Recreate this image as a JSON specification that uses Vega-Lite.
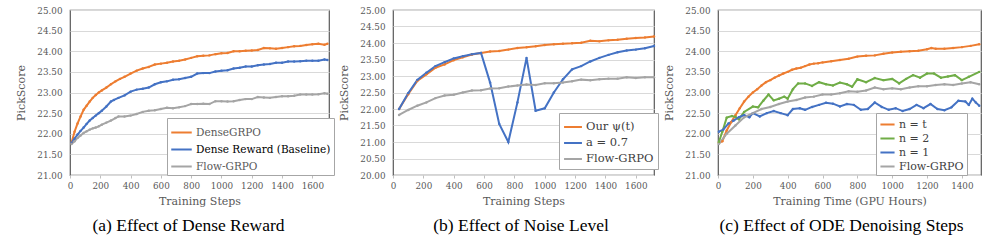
{
  "$schema": "https://vega.github.io/schema/vega-lite/v6.json",
  "background": "white",
  "padding": {"left": 15, "top": 5, "right": 5, "bottom": 5},
  "spacing": 64,
  "bounds": "flush",
  "config": {
    "font": "DejaVu Serif",
    "view": {"stroke": "#595959", "strokeWidth": 1.2},
    "axis": {"labelFont": "DejaVu Serif", "labelFontSize": 8.8, "labelColor": "#595959", "titleFont": "DejaVu Serif", "titleFontSize": 11, "titleFontWeight": "normal", "titleColor": "#595959", "gridColor": "#D9D9D9", "domain": false, "labelFlush": false},
    "axisX": {"grid": false, "tickColor": "#BFBFBF", "tickSize": 3, "labelPadding": 3, "titlePadding": 6, "format": "d"},
    "axisY": {"ticks": false, "labelPadding": 8, "format": ".2f", "titlePadding": 10},
    "legend": {"orient": "none", "title": null, "symbolType": "stroke", "symbolStrokeWidth": 2, "symbolSize": 480, "labelFont": "DejaVu Serif", "labelFontSize": 10.5, "labelColor": "#404040", "fillColor": "white", "strokeColor": "#A6A6A6", "padding": 3, "rowPadding": 0, "labelOffset": 3},
    "title": {"font": "Liberation Serif", "fontSize": 17.5, "fontWeight": "normal", "color": "black", "orient": "bottom", "offset": 10, "frame": "group"}
  },
  "datasets": {
    "a": [
      {"x":10,"y":21.78,"s":"DenseGRPO"},{"x":30,"y":22.05,"s":"DenseGRPO"},{"x":50,"y":22.25,"s":"DenseGRPO"},{"x":70,"y":22.42,"s":"DenseGRPO"},{"x":90,"y":22.58,"s":"DenseGRPO"},{"x":110,"y":22.68,"s":"DenseGRPO"},{"x":130,"y":22.78,"s":"DenseGRPO"},{"x":150,"y":22.87,"s":"DenseGRPO"},{"x":170,"y":22.94,"s":"DenseGRPO"},{"x":190,"y":23.0,"s":"DenseGRPO"},{"x":210,"y":23.05,"s":"DenseGRPO"},{"x":240,"y":23.12,"s":"DenseGRPO"},{"x":270,"y":23.2,"s":"DenseGRPO"},{"x":300,"y":23.27,"s":"DenseGRPO"},{"x":330,"y":23.33,"s":"DenseGRPO"},{"x":360,"y":23.38,"s":"DenseGRPO"},{"x":400,"y":23.46,"s":"DenseGRPO"},{"x":440,"y":23.53,"s":"DenseGRPO"},{"x":480,"y":23.58,"s":"DenseGRPO"},{"x":520,"y":23.62,"s":"DenseGRPO"},{"x":560,"y":23.68,"s":"DenseGRPO"},{"x":600,"y":23.7,"s":"DenseGRPO"},{"x":640,"y":23.72,"s":"DenseGRPO"},{"x":680,"y":23.75,"s":"DenseGRPO"},{"x":720,"y":23.77,"s":"DenseGRPO"},{"x":760,"y":23.8,"s":"DenseGRPO"},{"x":800,"y":23.84,"s":"DenseGRPO"},{"x":840,"y":23.88,"s":"DenseGRPO"},{"x":880,"y":23.89,"s":"DenseGRPO"},{"x":920,"y":23.9,"s":"DenseGRPO"},{"x":960,"y":23.93,"s":"DenseGRPO"},{"x":1000,"y":23.95,"s":"DenseGRPO"},{"x":1040,"y":23.96,"s":"DenseGRPO"},{"x":1080,"y":24.0,"s":"DenseGRPO"},{"x":1120,"y":24.0,"s":"DenseGRPO"},{"x":1160,"y":24.01,"s":"DenseGRPO"},{"x":1200,"y":24.02,"s":"DenseGRPO"},{"x":1240,"y":24.03,"s":"DenseGRPO"},{"x":1280,"y":24.08,"s":"DenseGRPO"},{"x":1320,"y":24.07,"s":"DenseGRPO"},{"x":1360,"y":24.06,"s":"DenseGRPO"},{"x":1400,"y":24.08,"s":"DenseGRPO"},{"x":1440,"y":24.1,"s":"DenseGRPO"},{"x":1480,"y":24.12,"s":"DenseGRPO"},{"x":1520,"y":24.13,"s":"DenseGRPO"},{"x":1560,"y":24.15,"s":"DenseGRPO"},{"x":1600,"y":24.17,"s":"DenseGRPO"},{"x":1640,"y":24.18,"s":"DenseGRPO"},{"x":1680,"y":24.16,"s":"DenseGRPO"},{"x":1700,"y":24.18,"s":"DenseGRPO"},
      {"x":10,"y":21.78,"s":"Dense Reward (Baseline)"},{"x":30,"y":21.88,"s":"Dense Reward (Baseline)"},{"x":50,"y":21.98,"s":"Dense Reward (Baseline)"},{"x":70,"y":22.07,"s":"Dense Reward (Baseline)"},{"x":90,"y":22.15,"s":"Dense Reward (Baseline)"},{"x":110,"y":22.24,"s":"Dense Reward (Baseline)"},{"x":130,"y":22.32,"s":"Dense Reward (Baseline)"},{"x":150,"y":22.38,"s":"Dense Reward (Baseline)"},{"x":170,"y":22.44,"s":"Dense Reward (Baseline)"},{"x":190,"y":22.5,"s":"Dense Reward (Baseline)"},{"x":210,"y":22.56,"s":"Dense Reward (Baseline)"},{"x":240,"y":22.66,"s":"Dense Reward (Baseline)"},{"x":270,"y":22.78,"s":"Dense Reward (Baseline)"},{"x":290,"y":22.82,"s":"Dense Reward (Baseline)"},{"x":320,"y":22.87,"s":"Dense Reward (Baseline)"},{"x":360,"y":22.93,"s":"Dense Reward (Baseline)"},{"x":400,"y":23.02,"s":"Dense Reward (Baseline)"},{"x":440,"y":23.07,"s":"Dense Reward (Baseline)"},{"x":480,"y":23.09,"s":"Dense Reward (Baseline)"},{"x":520,"y":23.12,"s":"Dense Reward (Baseline)"},{"x":560,"y":23.2,"s":"Dense Reward (Baseline)"},{"x":600,"y":23.25,"s":"Dense Reward (Baseline)"},{"x":640,"y":23.27,"s":"Dense Reward (Baseline)"},{"x":680,"y":23.31,"s":"Dense Reward (Baseline)"},{"x":720,"y":23.32,"s":"Dense Reward (Baseline)"},{"x":760,"y":23.35,"s":"Dense Reward (Baseline)"},{"x":800,"y":23.38,"s":"Dense Reward (Baseline)"},{"x":840,"y":23.46,"s":"Dense Reward (Baseline)"},{"x":880,"y":23.47,"s":"Dense Reward (Baseline)"},{"x":920,"y":23.47,"s":"Dense Reward (Baseline)"},{"x":960,"y":23.51,"s":"Dense Reward (Baseline)"},{"x":1000,"y":23.53,"s":"Dense Reward (Baseline)"},{"x":1040,"y":23.54,"s":"Dense Reward (Baseline)"},{"x":1080,"y":23.58,"s":"Dense Reward (Baseline)"},{"x":1120,"y":23.6,"s":"Dense Reward (Baseline)"},{"x":1160,"y":23.63,"s":"Dense Reward (Baseline)"},{"x":1200,"y":23.63,"s":"Dense Reward (Baseline)"},{"x":1240,"y":23.66,"s":"Dense Reward (Baseline)"},{"x":1280,"y":23.68,"s":"Dense Reward (Baseline)"},{"x":1320,"y":23.69,"s":"Dense Reward (Baseline)"},{"x":1360,"y":23.72,"s":"Dense Reward (Baseline)"},{"x":1400,"y":23.72,"s":"Dense Reward (Baseline)"},{"x":1440,"y":23.75,"s":"Dense Reward (Baseline)"},{"x":1480,"y":23.75,"s":"Dense Reward (Baseline)"},{"x":1520,"y":23.76,"s":"Dense Reward (Baseline)"},{"x":1560,"y":23.77,"s":"Dense Reward (Baseline)"},{"x":1600,"y":23.77,"s":"Dense Reward (Baseline)"},{"x":1640,"y":23.77,"s":"Dense Reward (Baseline)"},{"x":1680,"y":23.8,"s":"Dense Reward (Baseline)"},{"x":1700,"y":23.79,"s":"Dense Reward (Baseline)"},
      {"x":10,"y":21.75,"s":"Flow-GRPO"},{"x":30,"y":21.82,"s":"Flow-GRPO"},{"x":50,"y":21.9,"s":"Flow-GRPO"},{"x":70,"y":21.96,"s":"Flow-GRPO"},{"x":90,"y":22.02,"s":"Flow-GRPO"},{"x":110,"y":22.06,"s":"Flow-GRPO"},{"x":130,"y":22.1,"s":"Flow-GRPO"},{"x":150,"y":22.13,"s":"Flow-GRPO"},{"x":170,"y":22.15,"s":"Flow-GRPO"},{"x":190,"y":22.18,"s":"Flow-GRPO"},{"x":210,"y":22.22,"s":"Flow-GRPO"},{"x":240,"y":22.27,"s":"Flow-GRPO"},{"x":270,"y":22.32,"s":"Flow-GRPO"},{"x":300,"y":22.38,"s":"Flow-GRPO"},{"x":320,"y":22.42,"s":"Flow-GRPO"},{"x":360,"y":22.42,"s":"Flow-GRPO"},{"x":400,"y":22.44,"s":"Flow-GRPO"},{"x":440,"y":22.48,"s":"Flow-GRPO"},{"x":480,"y":22.53,"s":"Flow-GRPO"},{"x":520,"y":22.56,"s":"Flow-GRPO"},{"x":560,"y":22.57,"s":"Flow-GRPO"},{"x":600,"y":22.6,"s":"Flow-GRPO"},{"x":640,"y":22.63,"s":"Flow-GRPO"},{"x":680,"y":22.62,"s":"Flow-GRPO"},{"x":720,"y":22.64,"s":"Flow-GRPO"},{"x":760,"y":22.67,"s":"Flow-GRPO"},{"x":800,"y":22.72,"s":"Flow-GRPO"},{"x":840,"y":22.72,"s":"Flow-GRPO"},{"x":880,"y":22.73,"s":"Flow-GRPO"},{"x":920,"y":22.72,"s":"Flow-GRPO"},{"x":960,"y":22.79,"s":"Flow-GRPO"},{"x":1000,"y":22.79,"s":"Flow-GRPO"},{"x":1040,"y":22.78,"s":"Flow-GRPO"},{"x":1080,"y":22.79,"s":"Flow-GRPO"},{"x":1120,"y":22.82,"s":"Flow-GRPO"},{"x":1160,"y":22.84,"s":"Flow-GRPO"},{"x":1200,"y":22.84,"s":"Flow-GRPO"},{"x":1240,"y":22.89,"s":"Flow-GRPO"},{"x":1280,"y":22.88,"s":"Flow-GRPO"},{"x":1320,"y":22.87,"s":"Flow-GRPO"},{"x":1360,"y":22.89,"s":"Flow-GRPO"},{"x":1400,"y":22.91,"s":"Flow-GRPO"},{"x":1440,"y":22.91,"s":"Flow-GRPO"},{"x":1480,"y":22.92,"s":"Flow-GRPO"},{"x":1520,"y":22.95,"s":"Flow-GRPO"},{"x":1560,"y":22.95,"s":"Flow-GRPO"},{"x":1600,"y":22.95,"s":"Flow-GRPO"},{"x":1640,"y":22.96,"s":"Flow-GRPO"},{"x":1680,"y":22.98,"s":"Flow-GRPO"},{"x":1700,"y":22.97,"s":"Flow-GRPO"}
    ],
    "b": [
      {"x":40,"y":22.0,"s":"Our ψ(t)"},{"x":100,"y":22.45,"s":"Our ψ(t)"},{"x":160,"y":22.85,"s":"Our ψ(t)"},{"x":220,"y":23.05,"s":"Our ψ(t)"},{"x":280,"y":23.25,"s":"Our ψ(t)"},{"x":340,"y":23.35,"s":"Our ψ(t)"},{"x":400,"y":23.48,"s":"Our ψ(t)"},{"x":460,"y":23.57,"s":"Our ψ(t)"},{"x":520,"y":23.65,"s":"Our ψ(t)"},{"x":580,"y":23.7,"s":"Our ψ(t)"},{"x":640,"y":23.74,"s":"Our ψ(t)"},{"x":700,"y":23.76,"s":"Our ψ(t)"},{"x":760,"y":23.8,"s":"Our ψ(t)"},{"x":820,"y":23.85,"s":"Our ψ(t)"},{"x":880,"y":23.87,"s":"Our ψ(t)"},{"x":940,"y":23.9,"s":"Our ψ(t)"},{"x":1000,"y":23.94,"s":"Our ψ(t)"},{"x":1060,"y":23.96,"s":"Our ψ(t)"},{"x":1120,"y":23.98,"s":"Our ψ(t)"},{"x":1180,"y":23.99,"s":"Our ψ(t)"},{"x":1240,"y":24.01,"s":"Our ψ(t)"},{"x":1300,"y":24.07,"s":"Our ψ(t)"},{"x":1360,"y":24.05,"s":"Our ψ(t)"},{"x":1420,"y":24.08,"s":"Our ψ(t)"},{"x":1480,"y":24.1,"s":"Our ψ(t)"},{"x":1540,"y":24.13,"s":"Our ψ(t)"},{"x":1600,"y":24.15,"s":"Our ψ(t)"},{"x":1660,"y":24.17,"s":"Our ψ(t)"},{"x":1720,"y":24.2,"s":"Our ψ(t)"},
      {"x":40,"y":22.0,"s":"a = 0.7"},{"x":100,"y":22.48,"s":"a = 0.7"},{"x":160,"y":22.88,"s":"a = 0.7"},{"x":220,"y":23.1,"s":"a = 0.7"},{"x":280,"y":23.3,"s":"a = 0.7"},{"x":340,"y":23.42,"s":"a = 0.7"},{"x":400,"y":23.53,"s":"a = 0.7"},{"x":460,"y":23.6,"s":"a = 0.7"},{"x":520,"y":23.66,"s":"a = 0.7"},{"x":580,"y":23.7,"s":"a = 0.7"},{"x":640,"y":22.8,"s":"a = 0.7"},{"x":700,"y":21.55,"s":"a = 0.7"},{"x":760,"y":21.0,"s":"a = 0.7"},{"x":820,"y":22.2,"s":"a = 0.7"},{"x":880,"y":23.55,"s":"a = 0.7"},{"x":940,"y":21.95,"s":"a = 0.7"},{"x":1000,"y":22.02,"s":"a = 0.7"},{"x":1060,"y":22.5,"s":"a = 0.7"},{"x":1120,"y":22.9,"s":"a = 0.7"},{"x":1180,"y":23.2,"s":"a = 0.7"},{"x":1240,"y":23.3,"s":"a = 0.7"},{"x":1300,"y":23.44,"s":"a = 0.7"},{"x":1360,"y":23.55,"s":"a = 0.7"},{"x":1420,"y":23.64,"s":"a = 0.7"},{"x":1480,"y":23.72,"s":"a = 0.7"},{"x":1540,"y":23.77,"s":"a = 0.7"},{"x":1600,"y":23.8,"s":"a = 0.7"},{"x":1660,"y":23.84,"s":"a = 0.7"},{"x":1720,"y":23.91,"s":"a = 0.7"},
      {"x":40,"y":21.82,"s":"Flow-GRPO"},{"x":100,"y":21.97,"s":"Flow-GRPO"},{"x":160,"y":22.1,"s":"Flow-GRPO"},{"x":220,"y":22.2,"s":"Flow-GRPO"},{"x":280,"y":22.33,"s":"Flow-GRPO"},{"x":340,"y":22.41,"s":"Flow-GRPO"},{"x":400,"y":22.43,"s":"Flow-GRPO"},{"x":460,"y":22.5,"s":"Flow-GRPO"},{"x":520,"y":22.56,"s":"Flow-GRPO"},{"x":580,"y":22.57,"s":"Flow-GRPO"},{"x":640,"y":22.62,"s":"Flow-GRPO"},{"x":700,"y":22.63,"s":"Flow-GRPO"},{"x":760,"y":22.68,"s":"Flow-GRPO"},{"x":820,"y":22.71,"s":"Flow-GRPO"},{"x":880,"y":22.74,"s":"Flow-GRPO"},{"x":940,"y":22.73,"s":"Flow-GRPO"},{"x":1000,"y":22.78,"s":"Flow-GRPO"},{"x":1060,"y":22.78,"s":"Flow-GRPO"},{"x":1120,"y":22.8,"s":"Flow-GRPO"},{"x":1180,"y":22.84,"s":"Flow-GRPO"},{"x":1240,"y":22.89,"s":"Flow-GRPO"},{"x":1300,"y":22.87,"s":"Flow-GRPO"},{"x":1360,"y":22.9,"s":"Flow-GRPO"},{"x":1420,"y":22.92,"s":"Flow-GRPO"},{"x":1480,"y":22.92,"s":"Flow-GRPO"},{"x":1540,"y":22.96,"s":"Flow-GRPO"},{"x":1600,"y":22.94,"s":"Flow-GRPO"},{"x":1660,"y":22.96,"s":"Flow-GRPO"},{"x":1720,"y":22.96,"s":"Flow-GRPO"}
    ],
    "c": [
      {"x":5,"y":21.78,"s":"n = t"},{"x":25,"y":21.82,"s":"n = t"},{"x":50,"y":22.08,"s":"n = t"},{"x":75,"y":22.28,"s":"n = t"},{"x":100,"y":22.45,"s":"n = t"},{"x":125,"y":22.62,"s":"n = t"},{"x":150,"y":22.78,"s":"n = t"},{"x":175,"y":22.9,"s":"n = t"},{"x":200,"y":23.0,"s":"n = t"},{"x":225,"y":23.08,"s":"n = t"},{"x":250,"y":23.17,"s":"n = t"},{"x":275,"y":23.25,"s":"n = t"},{"x":300,"y":23.3,"s":"n = t"},{"x":325,"y":23.36,"s":"n = t"},{"x":350,"y":23.41,"s":"n = t"},{"x":375,"y":23.46,"s":"n = t"},{"x":400,"y":23.5,"s":"n = t"},{"x":425,"y":23.55,"s":"n = t"},{"x":450,"y":23.58,"s":"n = t"},{"x":475,"y":23.6,"s":"n = t"},{"x":500,"y":23.64,"s":"n = t"},{"x":525,"y":23.68,"s":"n = t"},{"x":550,"y":23.7,"s":"n = t"},{"x":575,"y":23.71,"s":"n = t"},{"x":600,"y":23.73,"s":"n = t"},{"x":650,"y":23.76,"s":"n = t"},{"x":700,"y":23.79,"s":"n = t"},{"x":750,"y":23.82,"s":"n = t"},{"x":800,"y":23.87,"s":"n = t"},{"x":850,"y":23.89,"s":"n = t"},{"x":900,"y":23.9,"s":"n = t"},{"x":950,"y":23.94,"s":"n = t"},{"x":1000,"y":23.97,"s":"n = t"},{"x":1050,"y":23.99,"s":"n = t"},{"x":1100,"y":24.0,"s":"n = t"},{"x":1150,"y":24.01,"s":"n = t"},{"x":1200,"y":24.05,"s":"n = t"},{"x":1225,"y":24.08,"s":"n = t"},{"x":1250,"y":24.06,"s":"n = t"},{"x":1300,"y":24.06,"s":"n = t"},{"x":1350,"y":24.08,"s":"n = t"},{"x":1400,"y":24.1,"s":"n = t"},{"x":1450,"y":24.13,"s":"n = t"},{"x":1500,"y":24.17,"s":"n = t"},
      {"x":5,"y":21.8,"s":"n = 2"},{"x":25,"y":22.05,"s":"n = 2"},{"x":50,"y":22.39,"s":"n = 2"},{"x":80,"y":22.43,"s":"n = 2"},{"x":100,"y":22.41,"s":"n = 2"},{"x":120,"y":22.35,"s":"n = 2"},{"x":150,"y":22.53,"s":"n = 2"},{"x":200,"y":22.66,"s":"n = 2"},{"x":230,"y":22.64,"s":"n = 2"},{"x":260,"y":22.8,"s":"n = 2"},{"x":290,"y":22.95,"s":"n = 2"},{"x":320,"y":22.81,"s":"n = 2"},{"x":350,"y":22.85,"s":"n = 2"},{"x":380,"y":22.9,"s":"n = 2"},{"x":400,"y":22.85,"s":"n = 2"},{"x":430,"y":23.08,"s":"n = 2"},{"x":460,"y":23.22,"s":"n = 2"},{"x":500,"y":23.22,"s":"n = 2"},{"x":540,"y":23.16,"s":"n = 2"},{"x":580,"y":23.25,"s":"n = 2"},{"x":620,"y":23.2,"s":"n = 2"},{"x":660,"y":23.17,"s":"n = 2"},{"x":700,"y":23.24,"s":"n = 2"},{"x":740,"y":23.2,"s":"n = 2"},{"x":770,"y":23.14,"s":"n = 2"},{"x":800,"y":23.32,"s":"n = 2"},{"x":850,"y":23.25,"s":"n = 2"},{"x":900,"y":23.35,"s":"n = 2"},{"x":950,"y":23.3,"s":"n = 2"},{"x":1000,"y":23.33,"s":"n = 2"},{"x":1040,"y":23.22,"s":"n = 2"},{"x":1080,"y":23.33,"s":"n = 2"},{"x":1120,"y":23.42,"s":"n = 2"},{"x":1160,"y":23.36,"s":"n = 2"},{"x":1200,"y":23.46,"s":"n = 2"},{"x":1240,"y":23.46,"s":"n = 2"},{"x":1280,"y":23.36,"s":"n = 2"},{"x":1320,"y":23.39,"s":"n = 2"},{"x":1360,"y":23.42,"s":"n = 2"},{"x":1400,"y":23.3,"s":"n = 2"},{"x":1440,"y":23.38,"s":"n = 2"},{"x":1500,"y":23.5,"s":"n = 2"},
      {"x":5,"y":22.05,"s":"n = 1"},{"x":30,"y":22.1,"s":"n = 1"},{"x":60,"y":22.25,"s":"n = 1"},{"x":90,"y":22.32,"s":"n = 1"},{"x":120,"y":22.4,"s":"n = 1"},{"x":150,"y":22.45,"s":"n = 1"},{"x":180,"y":22.4,"s":"n = 1"},{"x":200,"y":22.5,"s":"n = 1"},{"x":240,"y":22.42,"s":"n = 1"},{"x":280,"y":22.5,"s":"n = 1"},{"x":320,"y":22.55,"s":"n = 1"},{"x":360,"y":22.5,"s":"n = 1"},{"x":400,"y":22.45,"s":"n = 1"},{"x":430,"y":22.6,"s":"n = 1"},{"x":470,"y":22.62,"s":"n = 1"},{"x":500,"y":22.58,"s":"n = 1"},{"x":540,"y":22.65,"s":"n = 1"},{"x":580,"y":22.7,"s":"n = 1"},{"x":620,"y":22.75,"s":"n = 1"},{"x":660,"y":22.73,"s":"n = 1"},{"x":700,"y":22.66,"s":"n = 1"},{"x":740,"y":22.72,"s":"n = 1"},{"x":780,"y":22.7,"s":"n = 1"},{"x":820,"y":22.58,"s":"n = 1"},{"x":860,"y":22.6,"s":"n = 1"},{"x":900,"y":22.76,"s":"n = 1"},{"x":940,"y":22.65,"s":"n = 1"},{"x":980,"y":22.58,"s":"n = 1"},{"x":1020,"y":22.62,"s":"n = 1"},{"x":1060,"y":22.55,"s":"n = 1"},{"x":1100,"y":22.6,"s":"n = 1"},{"x":1140,"y":22.7,"s":"n = 1"},{"x":1180,"y":22.62,"s":"n = 1"},{"x":1220,"y":22.72,"s":"n = 1"},{"x":1260,"y":22.6,"s":"n = 1"},{"x":1300,"y":22.57,"s":"n = 1"},{"x":1340,"y":22.64,"s":"n = 1"},{"x":1380,"y":22.8,"s":"n = 1"},{"x":1420,"y":22.78,"s":"n = 1"},{"x":1440,"y":22.7,"s":"n = 1"},{"x":1460,"y":22.85,"s":"n = 1"},{"x":1480,"y":22.76,"s":"n = 1"},{"x":1500,"y":22.68,"s":"n = 1"},
      {"x":5,"y":21.75,"s":"Flow-GRPO"},{"x":50,"y":22.0,"s":"Flow-GRPO"},{"x":100,"y":22.2,"s":"Flow-GRPO"},{"x":150,"y":22.4,"s":"Flow-GRPO"},{"x":200,"y":22.5,"s":"Flow-GRPO"},{"x":250,"y":22.6,"s":"Flow-GRPO"},{"x":300,"y":22.65,"s":"Flow-GRPO"},{"x":350,"y":22.72,"s":"Flow-GRPO"},{"x":400,"y":22.78,"s":"Flow-GRPO"},{"x":450,"y":22.82,"s":"Flow-GRPO"},{"x":500,"y":22.88,"s":"Flow-GRPO"},{"x":550,"y":22.9,"s":"Flow-GRPO"},{"x":600,"y":22.95,"s":"Flow-GRPO"},{"x":650,"y":22.95,"s":"Flow-GRPO"},{"x":700,"y":22.98,"s":"Flow-GRPO"},{"x":750,"y":23.03,"s":"Flow-GRPO"},{"x":800,"y":23.02,"s":"Flow-GRPO"},{"x":850,"y":23.05,"s":"Flow-GRPO"},{"x":900,"y":23.12,"s":"Flow-GRPO"},{"x":950,"y":23.08,"s":"Flow-GRPO"},{"x":1000,"y":23.1,"s":"Flow-GRPO"},{"x":1050,"y":23.08,"s":"Flow-GRPO"},{"x":1100,"y":23.12,"s":"Flow-GRPO"},{"x":1150,"y":23.15,"s":"Flow-GRPO"},{"x":1200,"y":23.15,"s":"Flow-GRPO"},{"x":1250,"y":23.18,"s":"Flow-GRPO"},{"x":1300,"y":23.2,"s":"Flow-GRPO"},{"x":1350,"y":23.18,"s":"Flow-GRPO"},{"x":1400,"y":23.22,"s":"Flow-GRPO"},{"x":1450,"y":23.25,"s":"Flow-GRPO"},{"x":1500,"y":23.2,"s":"Flow-GRPO"}
    ]
  },
  "hconcat": [
    {
      "width": 259, "height": 165,
      "data": {"name": "a"},
      "title": {"text": "(a) Effect of Dense Reward", "dx": -11},
      "mark": {"type": "line", "strokeWidth": 2, "point": {"filled": true, "size": 6}},
      "encoding": {
        "x": {"field": "x", "type": "quantitative", "scale": {"domain": [0, 1710], "nice": false}, "axis": {"values": [0,200,400,600,800,1000,1200,1400,1600], "title": "Training Steps"}},
        "y": {"field": "y", "type": "quantitative", "scale": {"domain": [21, 25], "nice": false, "zero": false}, "axis": {"values": [21,21.5,22,22.5,23,23.5,24,24.5,25], "title": "PickScore"}},
        "color": {"field": "s", "type": "nominal", "scale": {"domain": ["DenseGRPO", "Dense Reward (Baseline)", "Flow-GRPO"], "range": ["#ED7D31", "#4472C4", "#A5A5A5"]},
          "legend": {"legendX": 97, "legendY": 108, "symbolSize": 420, "rowPadding": 0, "labelFontSize": 10.5, "encode": {"labels": {"update": {"fill": {"signal": "datum.label === 'Dense Reward (Baseline)' ? '#000000' : '#595959'"}}}}}}
      }
    },
    {
      "width": 261, "height": 165,
      "data": {"name": "b"},
      "title": {"text": "(b) Effect of Noise Level", "dx": -2.5},
      "mark": {"type": "line", "strokeWidth": 2, "point": {"filled": true, "size": 6}},
      "encoding": {
        "x": {"field": "x", "type": "quantitative", "scale": {"domain": [0, 1720], "nice": false}, "axis": {"values": [0,200,400,600,800,1000,1200,1400,1600], "title": "Training Steps"}},
        "y": {"field": "y", "type": "quantitative", "scale": {"domain": [20, 25], "nice": false, "zero": false}, "axis": {"values": [20,20.5,21,21.5,22,22.5,23,23.5,24,24.5,25], "title": "PickScore"}},
        "color": {"field": "s", "type": "nominal", "scale": {"domain": ["Our ψ(t)", "a = 0.7", "Flow-GRPO"], "range": ["#ED7D31", "#4472C4", "#A5A5A5"]},
          "legend": {"legendX": 166, "legendY": 103, "labelFontSize": 11.5, "symbolSize": 320, "rowPadding": 0, "padding": 4}}
      }
    },
    {
      "width": 263, "height": 165,
      "data": {"name": "c"},
      "title": {"text": "(c) Effect of ODE Denoising Steps", "dx": -8},
      "mark": {"type": "line", "strokeWidth": 2, "point": {"filled": true, "size": 6}},
      "encoding": {
        "x": {"field": "x", "type": "quantitative", "scale": {"domain": [0, 1510], "nice": false}, "axis": {"values": [0,200,400,600,800,1000,1200,1400], "title": "Training Time (GPU Hours)"}},
        "y": {"field": "y", "type": "quantitative", "scale": {"domain": [21, 25], "nice": false, "zero": false}, "axis": {"values": [21,21.5,22,22.5,23,23.5,24,24.5,25], "title": "PickScore"}},
        "color": {"field": "s", "type": "nominal", "scale": {"domain": ["n = t", "n = 2", "n = 1", "Flow-GRPO"], "range": ["#ED7D31", "#70AD47", "#4472C4", "#A5A5A5"]},
          "legend": {"legendX": 158, "legendY": 103, "labelFontSize": 11, "symbolSize": 200, "rowPadding": -1}}
      }
    }
  ],
  "resolve": {"scale": {"color": "independent", "x": "independent", "y": "independent"}, "legend": {"color": "independent"}}
}
